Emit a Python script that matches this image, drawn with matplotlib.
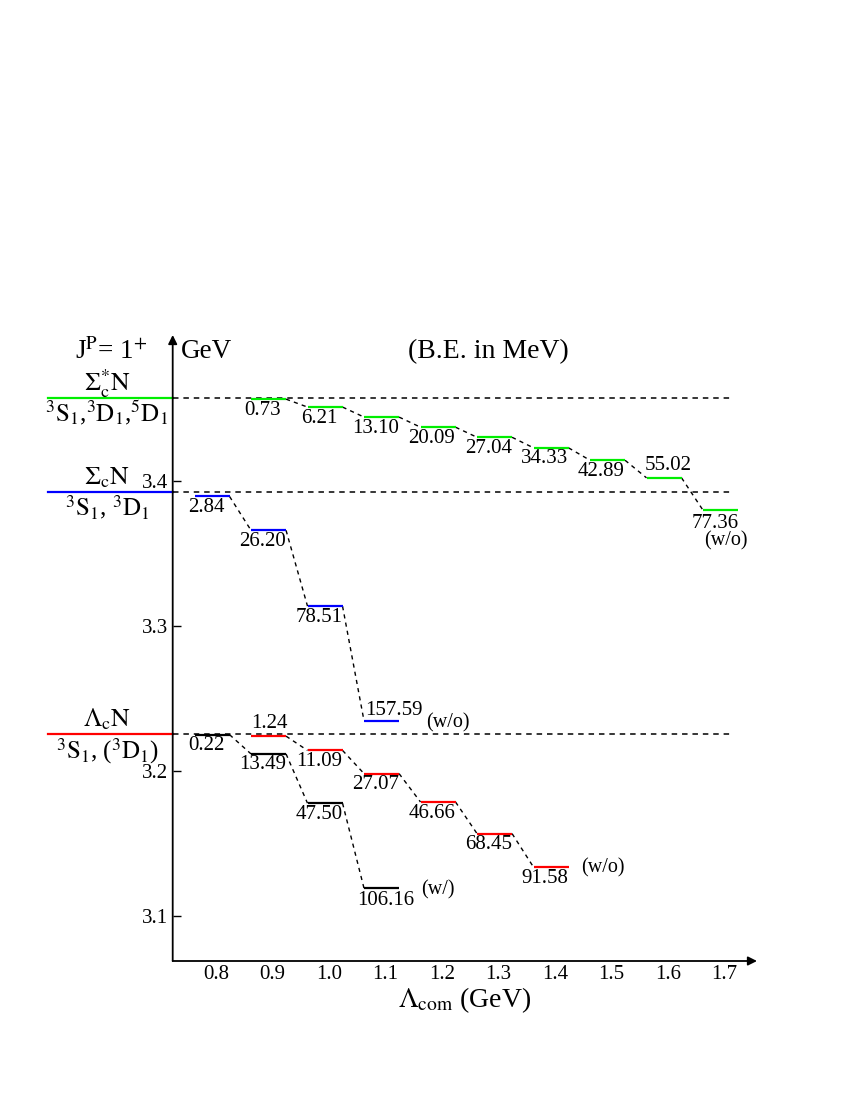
import matplotlib
matplotlib.use("Agg")
import matplotlib.pyplot as plt
import numpy as np

plt.rcParams['font.family'] = ['Liberation Serif', 'DejaVu Serif']
plt.rcParams['mathtext.fontset'] = 'stix'

# ---------------- data ----------------
lam_ticks = [0.8, 0.9, 1.0, 1.1, 1.2, 1.3, 1.4, 1.5, 1.6, 1.7]
y_ticks = [3.1, 3.2, 3.3, 3.4]

th_sigstar = 3.4572   # Sigma_c^* N threshold (GeV)
th_sig = 3.3922       # Sigma_c N threshold (GeV)
th_lam = 3.2253       # Lambda_c N threshold (GeV)

lam_green = [0.9, 1.0, 1.1, 1.2, 1.3, 1.4, 1.5, 1.6, 1.7]
be_green = [0.73, 6.21, 13.10, 20.09, 27.04, 34.33, 42.89, 55.02, 77.36]

lam_blue = [0.8, 0.9, 1.0, 1.1]
be_blue = [2.84, 26.20, 78.51, 157.59]

lam_black = [0.8, 0.9, 1.0, 1.1]
be_black = [0.22, 13.49, 47.50, 106.16]

lam_red = [0.9, 1.0, 1.1, 1.2, 1.3, 1.4]
be_red = [1.24, 11.09, 27.07, 46.66, 68.45, 91.58]

series = [
    dict(lam=lam_green, be=be_green, th=th_sigstar, color='#00ee00'),
    dict(lam=lam_blue, be=be_blue, th=th_sig, color='#0000ff'),
    dict(lam=lam_black, be=be_black, th=th_lam, color='#000000'),
    dict(lam=lam_red, be=be_red, th=th_lam, color='#ff0000'),
]

# label offsets in pixels (dx, dy) relative to (lambda, level); default below-left
default_off = (-10, -11)
label_off = {
    (0, 7): (0, 12),     # 55.02 above
    (1, 3): (8, 10),     # 157.59 above
    (3, 0): (-3, 13),    # 1.24 above
    (2, 3): (0, -12),    # 106.16
    (0, 8): (-9, -13),
}

PX = 0.72  # points per pixel at dpi 100
NUM_FS = 15
BIG_FS = 19.5

fig = plt.figure(figsize=(8.5, 11), dpi=100)
W, H = 850, 1100
ax_l, ax_r, ax_t, ax_b = 172.7, 757, 335, 961
ax = fig.add_axes([ax_l / W, 1 - ax_b / H, (ax_r - ax_l) / W, (ax_b - ax_t) / H])
xmin, xmax = 0.7234, 1.7575
ax.set_xlim(xmin, xmax)
ax.set_ylim(3.069, 3.5007)
for s in ax.spines.values():
    s.set_visible(False)

# axes with arrows
arrow = dict(arrowstyle='-|>', lw=1.3, color='k', mutation_scale=13, shrinkA=0, shrinkB=0)
ax.annotate('', xy=(0, 1), xytext=(0, 0), xycoords='axes fraction', arrowprops=arrow)
ax.annotate('', xy=(1, 0), xytext=(0, 0), xycoords='axes fraction', arrowprops=arrow)

ax.set_yticks(y_ticks)
ax.set_yticklabels([f'{v:.1f}' for v in y_ticks])
ax.tick_params(axis='y', direction='in', length=6, width=1, pad=3, labelsize=NUM_FS)
ax.set_xticks(lam_ticks)
ax.set_xticklabels([f'{v:.1f}' for v in lam_ticks])
ax.tick_params(axis='x', length=0, pad=3, labelsize=NUM_FS)

# thresholds
ytr = ax.get_yaxis_transform()
left_frac = (48 - ax_l) / (ax_r - ax_l)
lab_frac = (107 - ax_l) / (ax_r - ax_l)
thresholds = [
    (th_sigstar, '#00ee00', r'$\Sigma_{\rm c}^{*}{\rm N}$',
     r'$^3{\rm S}_1$,$^3{\rm D}_1$,$^5{\rm D}_1$', 15),
    (th_sig, '#0000ff', r'$\Sigma_{\rm c}{\rm N}$', r'$^3{\rm S}_1$, $^3{\rm D}_1$', 15),
    (th_lam, '#ff0000', r'$\Lambda_{\rm c}{\rm N}$', r'$^3{\rm S}_1$, ($^3{\rm D}_1$)', 17),
]
for th, col, top, bot, dbot in thresholds:
    ax.plot([left_frac, 0], [th, th], color=col, lw=1.6, transform=ytr, clip_on=False)
    ax.plot([xmin, 1.713], [th, th], color='k', lw=1.1, ls=(0, (3.6, 3.2)))
    ax.annotate(top, xy=(lab_frac, th), xycoords=ytr, xytext=(0, 15 * PX),
                textcoords='offset points', ha='center', va='center', fontsize=18.5,
                annotation_clip=False)
    ax.annotate(bot, xy=(lab_frac, th), xycoords=ytr, xytext=(0, -dbot * PX),
                textcoords='offset points', ha='center', va='center', fontsize=18,
                annotation_clip=False)

# levels
bl, br = -0.038, 0.024
for si, s in enumerate(series):
    lam = np.array(s['lam'])
    E = s['th'] - np.array(s['be']) / 1000.0
    ax.hlines(E, lam + bl, lam + br, colors=s['color'], lw=1.6, zorder=3)
    for i in range(len(lam) - 1):
        ax.plot([lam[i] + br, lam[i + 1] + bl], [E[i], E[i + 1]], color='k', lw=1.0,
                ls=(0, (3, 3)))
    for i, (l, e, b) in enumerate(zip(lam, E, s['be'])):
        dx, dy = label_off.get((si, i), default_off)
        ax.annotate(f'{b:.2f}', xy=(l, e), xytext=(dx * PX, dy * PX),
                    textcoords='offset points', ha='center', va='center', fontsize=NUM_FS)

# (w/o), (w/) annotations
ax.annotate('(w/o)', xy=(lam_blue[-1], th_sig - be_blue[-1] / 1000), xytext=(62 * PX, -2 * PX),
            textcoords='offset points', ha='center', va='center', fontsize=14.5)
ax.annotate('(w/)', xy=(lam_black[-1], th_lam - be_black[-1] / 1000), xytext=(52 * PX, -2 * PX),
            textcoords='offset points', ha='center', va='center', fontsize=14.5)
ax.annotate('(w/o)', xy=(lam_red[-1], th_lam - be_red[-1] / 1000), xytext=(48 * PX, -1 * PX),
            textcoords='offset points', ha='center', va='center', fontsize=14.5)
ax.annotate('(w/o)', xy=(lam_green[-1], th_sigstar - be_green[-1] / 1000), xytext=(1 * PX, -31 * PX),
            textcoords='offset points', ha='center', va='center', fontsize=14.5)

# header texts
fig.text(75 / W, 1 - 352 / H, r'J$^{\rm P}$= 1$^{+}$', ha='left', va='center', fontsize=BIG_FS)
fig.text(181 / W, 1 - 351 / H, 'GeV', ha='left', va='center', fontsize=BIG_FS)
fig.text(488 / W, 1 - 352 / H, '(B.E. in MeV)', ha='center', va='center', fontsize=20)
fig.text(465 / W, 1 - 1000 / H, r'$\Lambda_{\rm com}$ (GeV)', ha='center', va='center', fontsize=20)

fig.savefig('out.png', dpi=100)
